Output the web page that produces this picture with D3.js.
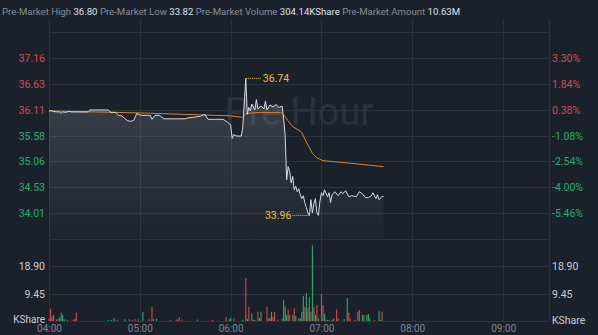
<!DOCTYPE html>
<html lang="en">
<head>
    <meta charset="UTF-8">
    <script src="https://d3js.org/d3.v7.min.js"></script>
    <title>Pre-Market</title>
    <style>
        body {
            margin: 0;
            background-color: #1b212b;
            font-family: Roboto, "Noto Sans", sans-serif;
        }
        #chart {
            width: 598px;
            height: 335px;
        }
    </style>
</head>
<body>
    <div id="chart"></div>

    <script>
        // Header summary
        const headerLabels = ["Pre-Market High", "Pre-Market Low", "Pre-Market Volume", "Pre-Market Amount"];
        const headerValues = ["36.80", "33.82", "304.14KShare", "10.63M"];

        const prevClose = 35.97;
        const pctTicks = [3.30, 1.84, 0.38, -1.08, -2.54, -4.00, -5.46];
        const pctRange = [-6.92, 4.76];
        const volTicks = [9.45, 18.90];
        const volMax = 28.35;
        const hourTicks = ["04:00", "05:00", "06:00", "07:00", "08:00", "09:00"];
        const sessionRange = ["04:00", "09:30"];

        // Price line (last trade per minute)
        const priceTimes = [
            "04:00", "04:01", "04:03", "04:05", "04:07", "04:08", "04:09", "04:11", "04:13", "04:15",
            "04:20", "04:26", "04:27", "04:33", "04:39", "04:41", "04:44", "04:46", "04:48", "04:50",
            "04:52", "04:54", "04:56", "04:58", "05:00", "05:02", "05:05", "05:07", "05:08", "05:10",
            "05:13", "05:16", "05:20", "05:25", "05:30", "05:32", "05:35", "05:40", "05:42", "05:43",
            "05:45", "05:50", "05:55", "05:58", "06:00", "06:01", "06:02", "06:04", "06:07", "06:08",
            "06:10", "06:11", "06:12", "06:13", "06:14", "06:16", "06:17", "06:18", "06:20", "06:22",
            "06:23", "06:24", "06:26", "06:28", "06:30", "06:32", "06:34", "06:35", "06:36", "06:37",
            "06:38", "06:39", "06:40", "06:41", "06:42", "06:43", "06:44", "06:45", "06:46", "06:47",
            "06:48", "06:49", "06:50", "06:51", "06:52", "06:53", "06:54", "06:55", "06:56", "06:57",
            "06:58", "06:59", "07:00", "07:01", "07:02", "07:04", "07:05", "07:06", "07:07", "07:09",
            "07:11", "07:13", "07:14", "07:16", "07:18", "07:20", "07:23", "07:25", "07:27", "07:29",
            "07:31", "07:33", "07:34", "07:36", "07:37", "07:38", "07:40", "07:41"
        ];
        const prices = [
            36.07, 36.09, 36.07, 36.06, 36.06, 36.03, 36.06, 36.05, 36.07, 36.06,
            36.06, 36.06, 36.10, 36.10, 36.10, 36.05, 36.05, 35.99, 35.98, 35.93,
            35.88, 35.87, 35.89, 36.03, 36.00, 35.99, 35.99, 35.99, 35.91, 35.99,
            35.99, 35.92, 35.92, 35.92, 35.92, 35.94, 35.95, 35.97, 36.00, 36.01,
            35.91, 35.91, 35.91, 35.85, 35.80, 35.52, 35.60, 35.57, 35.57, 35.74,
            36.74, 36.01, 36.15, 36.08, 36.22, 36.10, 36.31, 36.12, 36.18, 36.12,
            36.28, 36.10, 36.20, 36.16, 36.21, 36.15, 36.18, 35.92, 35.60, 34.68,
            34.95, 34.85, 34.62, 34.75, 34.48, 34.55, 34.44, 34.50, 34.38, 34.30,
            34.36, 34.22, 34.12, 34.01, 33.96, 34.28, 34.01, 34.20, 34.30, 34.01,
            33.96, 34.25, 34.42, 34.36, 34.48, 34.34, 34.42, 34.22, 34.38, 34.44,
            34.36, 34.44, 34.40, 34.46, 34.34, 34.36, 34.34, 34.44, 34.40, 34.32,
            34.32, 34.36, 34.42, 34.30, 34.38, 34.28, 34.34, 34.35
        ];

        // Average price line
        const avgTimes = [
            "04:00", "04:30", "05:00", "05:30", "06:00", "06:08", "06:10", "06:20", "06:33", "06:35",
            "06:38", "06:41", "06:45", "06:47", "06:50", "06:52", "06:54", "06:57", "07:01", "07:12",
            "07:25", "07:41"
        ];
        const avgPrices = [
            36.08, 36.06, 36.04, 36.01, 35.98, 35.95, 36.03, 36.05, 36.05, 36.00,
            35.88, 35.76, 35.69, 35.64, 35.45, 35.34, 35.22, 35.13, 35.07, 35.04,
            35.00, 34.95
        ];

        // Volume per minute (KShare), up = red, down = green
        const volTimes = [
            "04:00", "04:01", "04:02", "04:03", "04:05", "04:06", "04:07", "04:08", "04:09", "04:10",
            "04:12", "04:16", "04:17", "04:18", "04:39", "04:41", "04:43", "04:45", "04:50", "04:53",
            "04:55", "04:57", "04:59", "05:02", "05:06", "05:08", "05:09", "05:11", "05:20", "05:24",
            "05:25", "05:26", "05:28", "05:38", "05:48", "05:57", "05:59", "06:00", "06:02", "06:08",
            "06:10", "06:11", "06:12", "06:14", "06:15", "06:16", "06:18", "06:19", "06:20", "06:24",
            "06:25", "06:26", "06:27", "06:28", "06:29", "06:31", "06:34", "06:35", "06:36", "06:37",
            "06:38", "06:39", "06:41", "06:42", "06:43", "06:45", "06:46", "06:47", "06:48", "06:49",
            "06:50", "06:51", "06:52", "06:53", "06:54", "06:55", "06:56", "06:57", "06:58", "07:00",
            "07:01", "07:02", "07:03", "07:04", "07:05", "07:07", "07:08", "07:10", "07:11", "07:15",
            "07:17", "07:18", "07:19", "07:22", "07:24", "07:25", "07:27", "07:28", "07:30", "07:31",
            "07:32", "07:35", "07:38", "07:39", "07:40"
        ];
        const volumes = [
            0.9, 4.3, 1.5, 2.1, 0.6, 0.7, 1.3, 2.9, 2.1, 0.6,
            0.4, 0.4, 0.7, 2.9, 0.4, 0.4, 0.9, 0.4, 0.6, 0.6,
            0.4, 0.6, 0.6, 3.1, 0.6, 4.8, 0.6, 0.8, 0.4, 0.4,
            0.6, 1.4, 0.5, 0.5, 0.4, 1.4, 0.6, 1.1, 0.8, 0.4,
            14.9, 0.7, 4.9, 2.6, 0.4, 0.4, 3.2, 0.9, 3.2, 4.9,
            0.9, 1.1, 3.2, 1.5, 3.2, 0.4, 0.9, 7.2, 4.9, 2.1,
            4.0, 2.1, 2.1, 4.4, 1.7, 0.9, 0.9, 3.2, 8.6, 4.9,
            9.7, 4.4, 8.4, 3.2, 26.1, 4.9, 2.1, 5.5, 0.9, 9.3,
            5.5, 2.6, 0.5, 0.4, 0.4, 0.4, 0.9, 4.0, 0.9, 0.7,
            8.0, 2.9, 0.9, 0.4, 3.2, 3.8, 2.1, 2.1, 2.1, 2.4,
            0.9, 0.4, 3.4, 0.4, 3.2
        ];
        const volUp = [
            1, 1, 1, 0, 1, 1, 0, 0, 0, 0,
            0, 1, 1, 1, 0, 0, 0, 1, 0, 0,
            1, 1, 1, 0, 1, 1, 0, 0, 1, 1,
            1, 1, 1, 0, 1, 1, 0, 0, 1, 0,
            1, 0, 1, 0, 0, 1, 1, 0, 0, 1,
            1, 0, 0, 1, 1, 0, 1, 0, 0, 0,
            1, 1, 0, 1, 0, 1, 0, 0, 0, 1,
            0, 0, 1, 1, 0, 1, 0, 1, 0, 1,
            1, 0, 0, 1, 1, 1, 0, 1, 1, 0,
            0, 1, 1, 1, 1, 1, 0, 1, 0, 0,
            0, 1, 0, 0, 1
        ];

        const width = 598;
        const height = 335;
        const plotLeft = 49;
        const plotRight = 548.5;
        const priceTop = 32;
        const priceBottom = 239;
        const volBottom = 321;

        const red = "#d9474d";
        const green = "#22b06d";
        const gridColor = "#2b323d";

        const parseTime = d3.timeParse("%H:%M");

        const svg = d3.select("#chart")
            .append("svg")
            .attr("width", width)
            .attr("height", height);

        const x = d3.scaleTime()
            .domain(sessionRange.map(parseTime))
            .range([plotLeft, plotRight]);

        const y = d3.scaleLinear()
            .domain(pctRange.map(p => prevClose * (1 + p / 100)))
            .range([priceBottom, priceTop]);

        const yVol = d3.scaleLinear()
            .domain([0, volMax])
            .range([volBottom, priceBottom]);

        // Header line
        const header = svg.append("text")
            .attr("x", 2)
            .attr("y", 15)
            .style("font-size", "9.6px");
        headerLabels.forEach((label, i) => {
            header.append("tspan")
                .attr("fill", "#868c95")
                .text((i > 0 ? " " : "") + label + " ");
            header.append("tspan")
                .attr("fill", "#dfe2e6")
                .text(headerValues[i]);
        });

        // Grid
        const grid = svg.append("g");
        const priceGridLevels = [pctRange[1]].concat(pctTicks, [pctRange[0]]);
        grid.selectAll(".hgrid")
            .data(priceGridLevels)
            .enter()
            .append("line")
            .attr("x1", plotLeft)
            .attr("x2", plotRight)
            .attr("y1", d => Math.round(y(prevClose * (1 + d / 100))) + 0.5)
            .attr("y2", d => Math.round(y(prevClose * (1 + d / 100))) + 0.5)
            .attr("stroke", gridColor);

        grid.selectAll(".vgrid-line")
            .data(volTicks.concat([0]))
            .enter()
            .append("line")
            .attr("x1", plotLeft)
            .attr("x2", plotRight)
            .attr("y1", d => Math.round(yVol(d)) + 0.5)
            .attr("y2", d => Math.round(yVol(d)) + 0.5)
            .attr("stroke", gridColor);

        grid.selectAll(".tgrid")
            .data(hourTicks.concat([sessionRange[1]]))
            .enter()
            .append("line")
            .attr("x1", d => Math.round(x(parseTime(d))) + 0.5)
            .attr("x2", d => Math.round(x(parseTime(d))) + 0.5)
            .attr("y1", 19)
            .attr("y2", volBottom)
            .attr("stroke", gridColor);

        // Watermark
        svg.append("text")
            .attr("x", (plotLeft + plotRight) / 2)
            .attr("y", 125)
            .attr("text-anchor", "middle")
            .attr("fill", "#2c323c")
            .style("font-size", "38px")
            .text("Pre Hour");

        // Price area + line
        const priceData = priceTimes.map((t, i) => ({ t: parseTime(t), v: prices[i] }));
        const avgData = avgTimes.map((t, i) => ({ t: parseTime(t), v: avgPrices[i] }));

        const defs = svg.append("defs");
        const grad = defs.append("linearGradient")
            .attr("id", "areaGrad")
            .attr("x1", 0).attr("y1", 0)
            .attr("x2", 0).attr("y2", 1);
        grad.append("stop").attr("offset", "0%").attr("stop-color", "#c8ccd4").attr("stop-opacity", 0.2);
        grad.append("stop").attr("offset", "100%").attr("stop-color", "#c8ccd4").attr("stop-opacity", 0.02);

        svg.append("path")
            .datum(priceData)
            .attr("fill", "url(#areaGrad)")
            .attr("d", d3.area()
                .x(d => x(d.t))
                .y0(priceBottom)
                .y1(d => y(d.v)));

        svg.append("path")
            .datum(avgData)
            .attr("fill", "none")
            .attr("stroke", "#d9822b")
            .attr("stroke-width", 1)
            .attr("d", d3.line().x(d => x(d.t)).y(d => y(d.v)));

        svg.append("path")
            .datum(priceData)
            .attr("fill", "none")
            .attr("stroke", "#d6d9de")
            .attr("stroke-width", 1)
            .attr("d", d3.line().x(d => x(d.t)).y(d => y(d.v)));

        // High / low markers
        const hi = priceData.reduce((a, b) => (b.v > a.v ? b : a));
        const lo = priceData.reduce((a, b) => (b.v < a.v ? b : a));
        const markColor = "#e8c61c";

        svg.append("line")
            .attr("x1", x(hi.t)).attr("x2", x(hi.t) + 16)
            .attr("y1", y(hi.v)).attr("y2", y(hi.v))
            .attr("stroke", markColor)
            .attr("stroke-dasharray", "1,1");
        svg.append("text")
            .attr("x", x(hi.t) + 17)
            .attr("y", y(hi.v) + 4)
            .attr("fill", markColor)
            .style("font-size", "10.5px")
            .text(hi.v.toFixed(2));

        svg.append("line")
            .attr("x1", x(lo.t)).attr("x2", x(lo.t) - 17)
            .attr("y1", y(lo.v)).attr("y2", y(lo.v))
            .attr("stroke", markColor)
            .attr("stroke-dasharray", "1,1");
        svg.append("text")
            .attr("x", x(lo.t) - 18)
            .attr("y", y(lo.v) + 4)
            .attr("text-anchor", "end")
            .attr("fill", markColor)
            .style("font-size", "10.5px")
            .text(lo.v.toFixed(2));

        // Volume bars
        const volData = volTimes.map((t, i) => ({ t: parseTime(t), v: volumes[i], up: volUp[i] }));
        svg.selectAll(".bar")
            .data(volData)
            .enter()
            .append("rect")
            .attr("x", d => x(d.t) - 0.5)
            .attr("width", 1.1)
            .attr("y", d => yVol(d.v))
            .attr("height", d => volBottom - yVol(d.v))
            .attr("fill", d => (d.up ? red : green));

        // Price axis labels
        const labels = svg.append("g").style("font-size", "10.5px");
        labels.selectAll(".plabel")
            .data(pctTicks)
            .enter()
            .append("text")
            .attr("x", 45)
            .attr("y", d => y(prevClose * (1 + d / 100)) + 4)
            .attr("text-anchor", "end")
            .attr("fill", d => (d > 0 ? red : green))
            .text(d => (prevClose * (1 + d / 100)).toFixed(2));

        labels.selectAll(".pctlabel")
            .data(pctTicks)
            .enter()
            .append("text")
            .attr("x", 552)
            .attr("y", d => y(prevClose * (1 + d / 100)) + 4)
            .attr("fill", d => (d > 0 ? red : green))
            .text(d => d.toFixed(2) + "%");

        // Volume axis labels
        const volLabelColor = "#c9cdd3";
        labels.selectAll(".vlabelL")
            .data(volTicks)
            .enter()
            .append("text")
            .attr("x", 45)
            .attr("y", d => yVol(d) + 4)
            .attr("text-anchor", "end")
            .attr("fill", volLabelColor)
            .text(d => d.toFixed(2));
        labels.selectAll(".vlabelR")
            .data(volTicks)
            .enter()
            .append("text")
            .attr("x", 552)
            .attr("y", d => yVol(d) + 4)
            .attr("fill", volLabelColor)
            .text(d => d.toFixed(2));
        labels.append("text")
            .attr("x", 45).attr("y", volBottom + 2)
            .attr("text-anchor", "end")
            .attr("fill", volLabelColor)
            .style("font-size", "10px")
            .text("KShare");
        labels.append("text")
            .attr("x", 552).attr("y", volBottom + 3)
            .attr("fill", volLabelColor)
            .text("KShare");

        // Time axis
        const xAxis = d3.axisBottom(x)
            .tickValues(hourTicks.map(parseTime))
            .tickFormat(d3.timeFormat("%H:%M"))
            .tickSize(0)
            .tickPadding(0);
        const xg = svg.append("g")
            .attr("transform", `translate(0,${volBottom + 4})`)
            .call(xAxis);
        xg.select(".domain").remove();
        xg.selectAll("text")
            .attr("fill", "#7f858e")
            .style("font-size", "10px")
            .style("font-family", "Roboto, 'Noto Sans', sans-serif");
    </script>
</body>
</html>
